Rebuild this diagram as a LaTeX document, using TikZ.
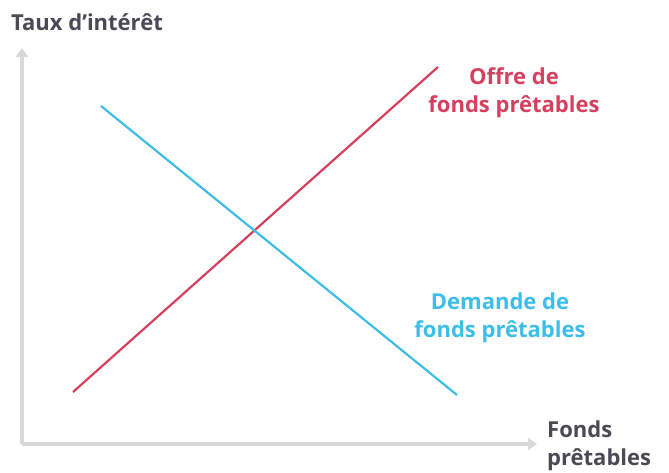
\documentclass[tikz,border=0pt]{standalone}
\usepackage{fontspec}
\setmainfont{Open Sans}
\usetikzlibrary{arrows.meta}
\definecolor{axisgray}{HTML}{D9D9D9}
\definecolor{textgray}{HTML}{4A4A55}
\definecolor{offred}{HTML}{D6405F}
\definecolor{demblue}{HTML}{3DBDE8}
\begin{document}
\begin{tikzpicture}[x=1pt,y=-1pt,
  axis/.style={draw=axisgray,line width=4pt,-{Triangle[length=9pt,width=12pt]}},
  curve/.style={line width=2.2pt},
  lbl/.style={font=\bfseries\fontsize{22}{28}\selectfont,align=center,inner sep=0pt}]
\useasboundingbox (0,0) rectangle (669,472);
\coordinate (origin) at (22,444);
\coordinate (ytip) at (22,48);
\coordinate (xtip) at (537,444);
\draw[axis] (origin) -- (ytip);
\draw[axis] (origin) -- (xtip);
\coordinate (s1) at (73,392);
\coordinate (s2) at (438,67);
\coordinate (d1) at (101,106);
\coordinate (d2) at (457,395);
\draw[curve,offred] (s1) -- (s2);
\draw[curve,demblue] (d1) -- (d2);
\node[lbl,text=textgray,anchor=west] (ylab) at (11,22) {Taux d’intérêt};
\node[lbl,text=offred] (off) at (514,93) {Offre de\\fonds prêtables};
\node[lbl,text=demblue] (dem) at (500,318) {Demande de\\fonds prêtables};
\node[lbl,text=textgray,align=left,anchor=west] (xlab) at (547,446) {Fonds\\prêtables};
\end{tikzpicture}
\end{document}
